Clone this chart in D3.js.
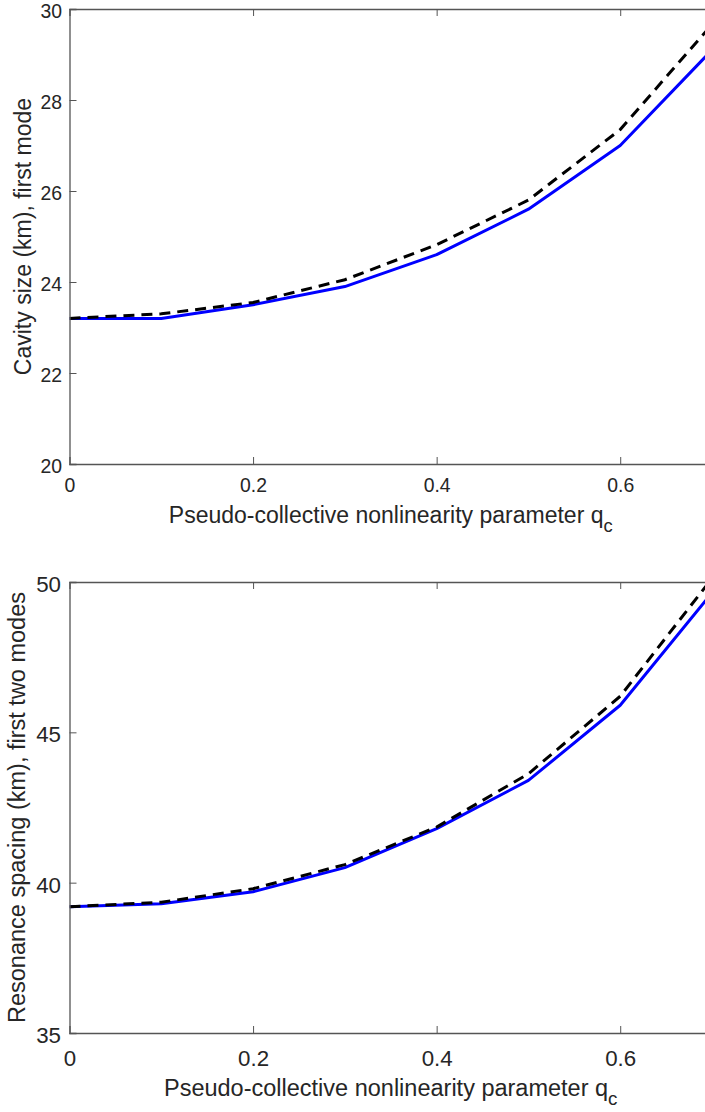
<!DOCTYPE html>
<html lang="en">
<head>
    <meta charset="UTF-8">
    <script src="https://cdnjs.cloudflare.com/ajax/libs/d3/7.8.5/d3.min.js"></script>
    <title>Cavity size and resonance spacing</title>
    <style>
        body { margin: 0; background: #fff; }
        svg text { font-family: "Liberation Sans", Arial, sans-serif; fill: #262626; }
    </style>
</head>
<body>
<div id="plot"></div>
<script>
    // data
    var qc = [0, 0.1, 0.2, 0.3, 0.4, 0.5, 0.6, 0.7];
    var cavityFull = [23.2, 23.2, 23.5, 23.9, 24.6, 25.6, 27.0, 29.1];
    var cavityApprox = [23.2, 23.3, 23.55, 24.05, 24.82, 25.8, 27.35, 29.66];
    var spacingFull = [39.2, 39.3, 39.7, 40.5, 41.8, 43.4, 45.9, 49.64];
    var spacingApprox = [39.2, 39.35, 39.8, 40.6, 41.85, 43.62, 46.2, 50.12];
    var xTicks = [0, 0.2, 0.4, 0.6];
    var topYTicks = [20, 22, 24, 26, 28, 30];
    var botYTicks = [35, 40, 45, 50];

    var W = 705, H = 1112;
    var svg = d3.select("#plot").append("svg")
        .attr("width", W).attr("height", H);

    function panel(opt) {
        var x = d3.scaleLinear().domain([0, 0.7]).range([69.5, 712]);
        var y = d3.scaleLinear().domain(opt.yDomain).range([opt.bottom, opt.top]);
        var g = svg.append("g");
        var clipId = "clip" + opt.id;
        g.append("clipPath").attr("id", clipId)
            .append("rect")
            .attr("x", x(0)).attr("y", opt.top)
            .attr("width", x(0.7) - x(0)).attr("height", opt.bottom - opt.top);

        // lines
        var line = function (vals) {
            return d3.line().x((d, i) => x(qc[i])).y(d => y(d))(vals);
        };
        g.append("path").attr("d", line(opt.solid))
            .attr("clip-path", "url(#" + clipId + ")")
            .attr("fill", "none").attr("stroke", "#0000ff")
            .attr("stroke-width", 3).attr("stroke-linejoin", "round");
        g.append("path").attr("d", line(opt.dashed))
            .attr("clip-path", "url(#" + clipId + ")")
            .attr("fill", "none").attr("stroke", "#000")
            .attr("stroke-width", 3).attr("stroke-dasharray", "11,7");

        // axes (ticks inward)
        var axCol = "#555";
        var xb = g.append("g").attr("transform", "translate(0," + opt.bottom + ")")
            .call(d3.axisBottom(x).tickValues(xTicks).tickSize(-7).tickPadding(opt.xPad)
                .tickFormat(d3.format("")));
        var xt = g.append("g").attr("transform", "translate(0," + opt.top + ")")
            .call(d3.axisTop(x).tickValues(xTicks).tickSize(-7).tickFormat(""));
        var yl = g.append("g").attr("transform", "translate(" + x(0) + ",0)")
            .call(d3.axisLeft(y).tickValues(opt.yTicks).tickSize(-7).tickPadding(opt.yPad));
        var yr = g.append("g").attr("transform", "translate(" + x(0.7) + ",0)")
            .call(d3.axisRight(y).tickValues(opt.yTicks).tickSize(-7).tickFormat(""));
        [xb, xt, yl, yr].forEach(function (a) {
            a.select(".domain").attr("stroke", axCol).attr("stroke-width", 1.3);
            a.selectAll(".tick line").attr("stroke", axCol);
            a.selectAll("text").style("font-size", opt.fs + "px").attr("fill", "#262626");
        });
        yl.selectAll("text").attr("dy", "0.42em");
        // hide the x tick at the left edge (it overlaps the axis)
        xb.selectAll(".tick line").filter(d => d === 0).remove();
        xt.selectAll(".tick line").filter(d => d === 0).remove();

        // x label
        var xl = g.append("text")
            .attr("x", (x(0) + x(0.7)) / 2).attr("y", opt.xLabelY)
            .attr("text-anchor", "middle")
            .style("font-size", opt.lfs + "px");
        xl.append("tspan").text("Pseudo-collective nonlinearity parameter q");
        xl.append("tspan").text("c").attr("dy", opt.lfs * 0.4)
            .style("font-size", (opt.lfs * 0.8) + "px");

        // y label
        g.append("text")
            .attr("transform", "translate(" + opt.yLabelX + "," + (opt.top + opt.bottom) / 2 + ") rotate(-90)")
            .attr("text-anchor", "middle")
            .style("font-size", opt.lfs + "px")
            .text(opt.yLabel);
    }

    panel({
        id: 1, top: 9, bottom: 464, yDomain: [20, 30], yTicks: topYTicks,
        solid: cavityFull, dashed: cavityApprox, fs: 19.4, lfs: 23, xPad: 14, yPad: 7.5,
        xLabelY: 523, yLabelX: 31, yLabel: "Cavity size (km), first mode"
    });
    panel({
        id: 2, top: 582, bottom: 1033, yDomain: [35, 50], yTicks: botYTicks,
        solid: spacingFull, dashed: spacingApprox, fs: 22.3, lfs: 23.5, xPad: 17, yPad: 8.5,
        xLabelY: 1096, yLabelX: 25, yLabel: "Resonance spacing (km), first two modes"
    });
</script>
</body>
</html>
